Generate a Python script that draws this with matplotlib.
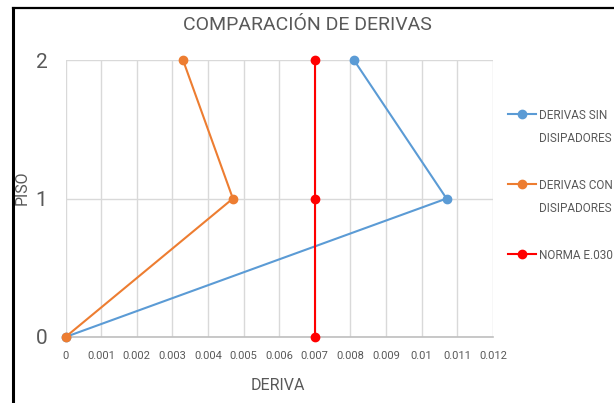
import matplotlib.pyplot as plt
from matplotlib.lines import Line2D

# data
pisos = [0, 1, 2]
deriva_sin = [0.0, 0.0107, 0.0081]
deriva_con = [0.0, 0.0047, 0.0033]
deriva_norma = [0.007, 0.007, 0.007]
x_ticks = [0, 0.001, 0.002, 0.003, 0.004, 0.005, 0.006, 0.007, 0.008, 0.009, 0.01, 0.011, 0.012]
x_tick_labels = ["0", "0.001", "0.002", "0.003", "0.004", "0.005", "0.006",
                 "0.007", "0.008", "0.009", "0.01", "0.011", "0.012"]
labels = ["DERIVAS SIN\nDISIPADORES", "DERIVAS CON\nDISIPADORES", "NORMA E.030"]
colors = ["#5B9BD5", "#ED7D31", "#FF0000"]

plt.rcParams["font.family"] = ["Roboto", "DejaVu Sans"]
txt = "#595959"

fig = plt.figure(figsize=(6.14, 4.03), dpi=100)
ax = fig.add_axes([0.1067, 0.1638, 0.696, 0.687])

for xs, c in zip([deriva_sin, deriva_con, deriva_norma], colors):
    ax.plot(xs, pisos, color=c, linewidth=1.5, marker="o", markersize=6,
            clip_on=False, zorder=3)

ax.set_xlim(0, 0.012)
ax.set_ylim(0, 2)
ax.set_xticks(x_ticks)
ax.set_xticklabels(x_tick_labels, fontsize=8, color=txt)
ax.set_yticks(pisos)
ax.set_yticklabels([str(p) for p in pisos], fontsize=15, color=txt)
ax.tick_params(axis="both", length=0)
ax.tick_params(axis="x", pad=10)
ax.tick_params(axis="y", pad=13)
ax.grid(True, color="#D9D9D9", linewidth=1)
for s in ["top", "right", "left"]:
    ax.spines[s].set_visible(False)
ax.spines["bottom"].set_color("#BFBFBF")
ax.spines["bottom"].set_linewidth(1.2)

ax.set_xlabel("DERIVA", fontsize=11.5, color=txt)
ax.set_ylabel("PISO", fontsize=11.5, color=txt)
ax.xaxis.set_label_coords(0.497, -0.148)
ax.yaxis.set_label_coords(-0.085, 0.54)
fig.text(0.5, 0.938, "COMPARACIÓN DE DERIVAS", fontsize=14, color=txt,
         ha="center", va="center")

# legend drawn by hand so the marker sits on the first text line
leg_y = [114, 184, 254]
for lab, c, yp in zip(labels, colors, leg_y):
    yf = 1 - yp / 403
    fig.add_artist(Line2D([508 / 614, 536 / 614], [yf, yf], color=c,
                          linewidth=1.5, transform=fig.transFigure))
    fig.add_artist(Line2D([522 / 614], [yf], color=c, marker="o", markersize=6,
                          transform=fig.transFigure))
    fig.text(539 / 614, yf + 5 / 403, lab, fontsize=8.5, color=txt,
             ha="left", va="top", linespacing=1.95)

# outer chart frame of the screenshot
fig.add_artist(Line2D([13 / 614, 13 / 614], [0, 1 - 8 / 403], color="black",
                      linewidth=2.2, transform=fig.transFigure))
fig.add_artist(Line2D([13 / 614, 1], [1 - 8 / 403, 1 - 8 / 403], color="black",
                      linewidth=1.6, transform=fig.transFigure))

fig.savefig("out.png", dpi=100, facecolor="white")
